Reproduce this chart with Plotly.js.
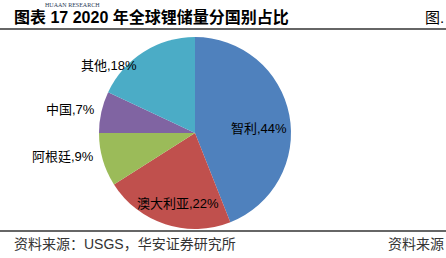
<!DOCTYPE html>
<html><head><meta charset="utf-8">
<script src="https://cdn.plot.ly/plotly-3.0.1.min.js"></script>
<style>html,body{margin:0;padding:0;background:#fff;}#c{width:446px;height:258px;}</style>
</head><body><div id="c"></div>
<script>
const countries = ['智利','澳大利亚','阿根廷','中国','其他'];
const shares = [44, 22, 9, 7, 18];
const colors = ['#4F81BD','#C0504D','#9BBB59','#8064A2','#4BACC6'];
const titleText = '图表 17 2020 年全球锂储量分国别占比';
const sourceText = '资料来源：USGS，华安证券研究所';

// label placement styling (radial factor, anchor, pixel nudges)
const labelRadius = [0.68, 0.77, 1.03, 1.03, 0.9];
const labelAnchor = ['center','center','right','right','right'];
const labelShiftX = [0, 6, -4, -2, -10];
const labelShiftY = [-8, 0, 4, 2, -5];

const W = 446, H = 258;
const px = x => x / W, py = y => 1 - y / H;
const cjk = '"Liberation Sans", Arial, "Noto Sans CJK SC", sans-serif';
const cx = 195, cy = 133, R = 96;

const data = [{
  type: 'pie',
  labels: countries,
  values: shares,
  sort: false,
  direction: 'clockwise',
  rotation: 0,
  marker: {colors: colors, line: {width: 0}},
  textinfo: 'none',
  hoverinfo: 'none',
  showlegend: false,
  domain: {x: [px(cx - R), px(cx + R)], y: [py(cy + R), py(cy - R)]}
}];

const total = shares.reduce((a, b) => a + b, 0);
let cum = 0;
const labelAnns = countries.map((name, i) => {
  const mid = (cum + shares[i] / 2) / total * 2 * Math.PI;
  cum += shares[i];
  const r = R * labelRadius[i];
  const x = cx + Math.sin(mid) * r;
  const y = cy - Math.cos(mid) * r;
  return {
    text: name + ',' + shares[i] + '%', xref: 'paper', yref: 'paper',
    x: px(x), y: py(y), xanchor: labelAnchor[i], yanchor: 'middle',
    xshift: labelShiftX[i], yshift: labelShiftY[i], showarrow: false,
    font: {family: cjk, size: 13, color: '#000'}
  };
});

const layout = {
  width: W, height: H,
  margin: {l: 0, r: 0, t: 0, b: 0},
  paper_bgcolor: '#fff',
  shapes: [
    {type: 'line', xref: 'paper', yref: 'paper', x0: 0, x1: 1, y0: py(29), y1: py(29), line: {color: '#333', width: 1.3}},
    {type: 'line', xref: 'paper', yref: 'paper', x0: 0, x1: 1, y0: py(231), y1: py(231), line: {color: '#333', width: 1.3}}
  ],
  annotations: labelAnns.concat([
    {text: 'HUAAN RESEARCH', xref: 'paper', yref: 'paper', x: px(43), y: 1, xanchor: 'left', yanchor: 'top', showarrow: false, font: {family: '"Liberation Serif", serif', size: 6, color: '#2b3a55'}},
    {text: '<b>' + titleText + '</b>', xref: 'paper', yref: 'paper', x: px(12), y: py(17), xanchor: 'left', yanchor: 'middle', showarrow: false, font: {family: cjk, size: 16, color: '#000'}},
    {text: '图.', xref: 'paper', yref: 'paper', x: 1, y: py(17), xanchor: 'right', yanchor: 'middle', showarrow: false, font: {family: cjk, size: 15, color: '#000'}},
    {text: sourceText, xref: 'paper', yref: 'paper', x: px(12), y: py(244), xanchor: 'left', yanchor: 'middle', showarrow: false, font: {family: cjk, size: 14, color: '#333'}},
    {text: '资料来源', xref: 'paper', yref: 'paper', x: 1, y: py(244), xanchor: 'right', yanchor: 'middle', showarrow: false, font: {family: cjk, size: 14, color: '#333'}}
  ])
};

Plotly.newPlot('c', data, layout, {staticPlot: true, displayModeBar: false});
</script>
</body></html>
